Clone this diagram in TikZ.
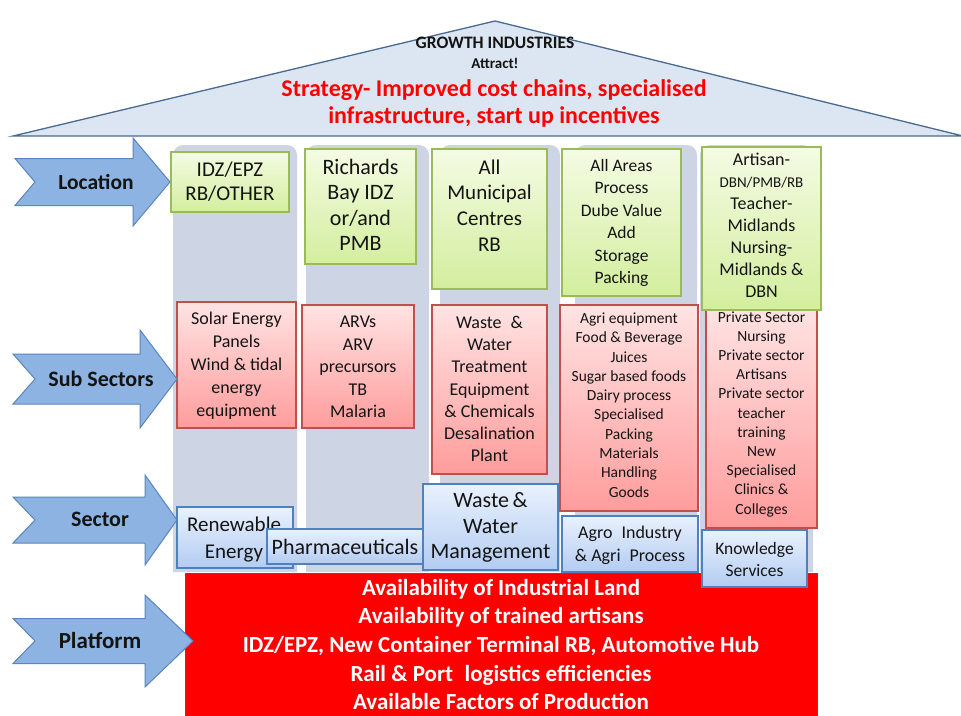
\documentclass[tikz,border=0pt]{standalone}
\usepackage{fontspec}
\setmainfont{Carlito}
\usetikzlibrary{shadows}
\definecolor{colbg}{HTML}{CDD5E4}
\definecolor{roofc}{HTML}{DCE6F2}
\definecolor{roofb}{HTML}{4A6A90}
\definecolor{arrf}{HTML}{8DB3E2}
\definecolor{arrb}{HTML}{5A85BE}
\definecolor{gtop}{HTML}{F4FBE3}
\definecolor{gbot}{HTML}{D3EE9E}
\definecolor{gbd}{HTML}{9BBB59}
\definecolor{rtop}{HTML}{FFE3E3}
\definecolor{rbot}{HTML}{FF9C9C}
\definecolor{rbd}{HTML}{C0504D}
\definecolor{btop}{HTML}{E9F1FD}
\definecolor{bbot}{HTML}{B3CCF2}
\definecolor{bbd}{HTML}{4F81BD}
\definecolor{txtc}{HTML}{141414}
\definecolor{platc}{HTML}{FF0000}
\definecolor{platb}{HTML}{3B5A80}
\newcommand\fs[2]{\fontsize{#1}{#2}\selectfont}
\newcommand\mkbox[6]{\node[#1, minimum width={(#5-#3)*1pt}, minimum height={(#6-#4)*1pt}] (#2) at ({(#3+#5)/2},{(#4+#6)/2}) {};}
\newcommand\bigarrow[7]{\draw[arr] (#1,{#5-#6}) -- (#3,{#5-#6}) -- (#3,{#5-#7}) -- (#4,#5) -- (#3,{#5+#7}) -- (#3,{#5+#6}) -- (#1,{#5+#6}) -- (#2,#5) -- cycle;}
\tikzset{
  basebox/.style={inner sep=0pt, outer sep=0pt, line width=1.2pt,
    drop shadow={shadow xshift=1.3pt, shadow yshift=-1.3pt, fill=black, opacity=0.18}},
  gbox/.style={basebox, draw=gbd, top color=gtop, bottom color=gbot},
  rbox/.style={basebox, draw=rbd, top color=rtop, bottom color=rbot},
  bbox/.style={basebox, draw=bbd, top color=btop, bottom color=bbot},
  platbox/.style={inner sep=0pt, outer sep=0pt, draw=platb, line width=1pt, fill=platc},
  lbl/.style={inner sep=0pt, outer sep=0pt, align=center, text=txtc},
  arr/.style={fill=arrf, draw=arrb, line width=1pt, line join=miter},
  colshape/.style={fill=colbg},
}
\begin{document}
\begin{tikzpicture}[x=1pt, y=-1pt]
\useasboundingbox[fill=white] (0,0) rectangle (961,715);

% roof
\draw[fill=roofc, draw=roofb, line width=1.3pt, line join=miter] (13,136) -- (495,21) -- (963,136) -- cycle;
\node[lbl, font=\bfseries\fs{17.5}{20}] (growth) at (495,43) {GROWTH INDUSTRIES};
\node[lbl, font=\bfseries\fs{15}{18}] (attract) at (495,63) {Attract!};
\node[lbl, text=red, font=\bfseries\fs{24}{27}] (strategy) at (494,103) {Strategy- Improved cost chains, specialised\\infrastructure, start up incentives};

% column backgrounds
\fill[colshape] (173,572) [rounded corners=10pt]-- (173,145) -- (297,145) [sharp corners]-- (297,572) -- cycle;
\fill[colshape] (306,572) [rounded corners=10pt]-- (306,145) -- (429,145) [sharp corners]-- (429,572) -- cycle;
\fill[colshape] (440,572) [rounded corners=10pt]-- (440,145) -- (560,145) [sharp corners]-- (560,572) -- cycle;
\fill[colshape] (575,572) [rounded corners=10pt]-- (575,145) -- (697,145) [sharp corners]-- (697,572) -- cycle;
\fill[colshape] (700,572) [rounded corners=10pt]-- (700,145) -- (813,145) [sharp corners]-- (813,572) -- cycle;

% sub sector boxes (red)
\mkbox{rbox}{r1}{177}{302}{296}{428}
\mkbox{rbox}{r2}{302}{305}{414}{428}
\mkbox{rbox}{r3}{432}{305}{547}{474}
\mkbox{rbox}{r4}{560}{305}{698}{511}
\mkbox{rbox}{r5}{706}{305}{817}{528}
\node[lbl, font=\fs{18}{23}] (tr1) at (236.5,366) {Solar Energy\\Panels\\Wind \& tidal\\energy\\equipment};
\node[lbl, font=\fs{18}{22.5}] (tr2) at (358,367) {ARVs\\ARV\\precursors\\TB\\Malaria};
\node[lbl, font=\fs{18}{22.3}] (tr3) at (489.5,389) {Waste\enspace\&\\Water\\Treatment\\Equipment\\\& Chemicals\\Desalination\\Plant};
\node[lbl, font=\fs{15.5}{19.3}] (tr4) at (629,405) {Agri equipment\\Food \& Beverage\\Juices\\Sugar based foods\\Dairy process\\Specialised\\Packing\\Materials\\Handling\\Goods};
\node[lbl, font=\fs{15.5}{19.2}] (tr5) at (761.5,414) {Private Sector\\Nursing\\Private sector\\Artisans\\Private sector\\teacher\\training\\New\\Specialised\\Clinics \&\\Colleges};

% location boxes (green)
\mkbox{gbox}{g1}{171}{152}{289}{212}
\mkbox{gbox}{g2}{305}{149}{416}{264}
\mkbox{gbox}{g3}{432}{149}{547}{289}
\mkbox{gbox}{g4}{562}{149}{681}{296}
\mkbox{gbox}{g5}{702}{147}{821}{310}
\node[lbl, font=\fs{21}{24}] (tg1) at (230,182) {IDZ/EPZ\\RB/OTHER};
\node[lbl, font=\fs{22}{25.5}] (tg2) at (360.5,205) {Richards\\Bay IDZ\\or/and\\PMB};
\node[lbl, font=\fs{21}{25.7}] (tg3) at (489.5,205.5) {All\\Municipal\\Centres\\RB};
\node[lbl, font=\fs{17.5}{22.4}] (tg4) at (621.5,223) {All Areas\\Process\\Dube Value\\Add\\Storage\\Packing};
\node[lbl, font=\fs{18}{22}] (tg5) at (761.5,225.5) {Artisan-\\{\fs{15}{22}DBN/PMB/RB}\\Teacher-\\Midlands\\Nursing-\\Midlands \&\\DBN};

% platform
\node[platbox, minimum width=632pt, minimum height=150pt] (plat) at (501,648) {};
\node[lbl, text=white, font=\bfseries\fs{23}{28.6}] (tplat) at (501,644.5) {Availability of Industrial Land\\Availability of trained artisans\\IDZ/EPZ, New Container Terminal RB, Automotive Hub\\Rail \& Port\enspace logistics efficiencies\\Available Factors of Production};

% sector boxes (blue)
\mkbox{bbox}{b1}{177}{507}{293}{568}
\node[lbl, font=\fs{21}{27}] (tb1) at (234,539.5) {Renewable\\Energy};
\mkbox{bbox}{b2}{267}{529}{423}{564}
\node[lbl, font=\fs{22}{26}] (tb2) at (345,547) {Pharmaceuticals};
\mkbox{bbox}{b3}{423}{484}{558}{570}
\node[lbl, font=\fs{22}{25.5}] (tb3) at (490.5,527.5) {Waste\,\&\\Water\\Management};
\mkbox{bbox}{b4}{562}{516}{698}{572}
\node[lbl, font=\fs{18}{23}] (tb4) at (630,545.5) {Agro\enspace Industry\\\& Agri\enspace Process};
\mkbox{bbox}{b5}{702}{530}{807}{587}
\node[lbl, font=\fs{17.5}{22}] (tb5) at (754.5,559) {Knowledge\\Services};

% arrows
\bigarrow{15}{35}{133}{170}{182}{23.5}{44}
\bigarrow{13}{35}{140}{177}{379}{25}{49}
\bigarrow{13}{35}{145}{177}{520}{23}{45}
\bigarrow{13}{35}{145}{193}{641}{22.5}{46}
\node[lbl, font=\bfseries\fs{21.5}{24}] (aloc) at (96,182) {Location};
\node[lbl, font=\bfseries\fs{22}{24}] (asub) at (101,379) {Sub Sectors};
\node[lbl, font=\bfseries\fs{22}{24}] (asec) at (100,519) {Sector};
\node[lbl, font=\bfseries\fs{23}{24}] (aplat) at (100,641) {Platform};
\end{tikzpicture}
\end{document}
